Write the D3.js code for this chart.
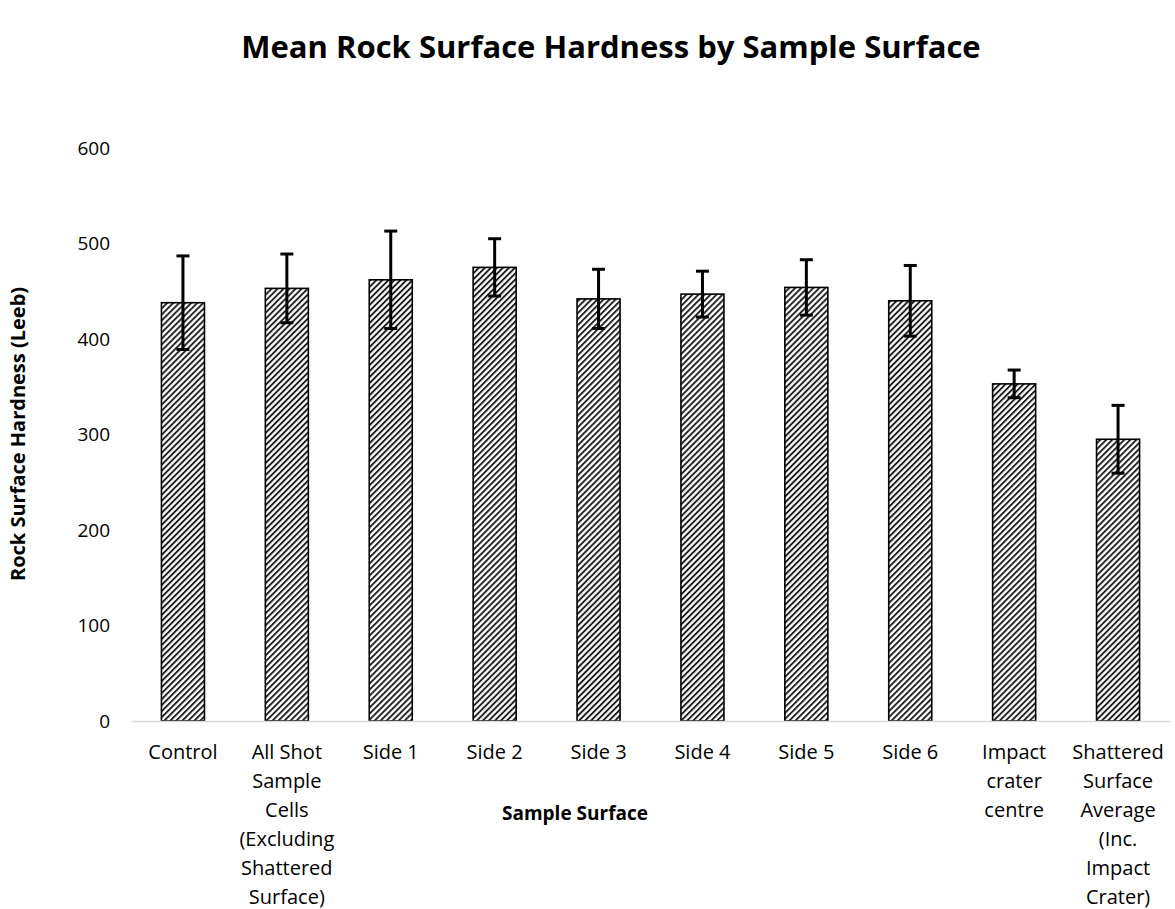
<!DOCTYPE html>
<html>
<head>
<meta charset="utf-8">
<script src="https://cdn.jsdelivr.net/npm/d3@7"></script>
<style>
  html, body { margin: 0; padding: 0; background: #fff; }
  svg { display: block; }
  text { font-family: "Open Sans", "Noto Sans", sans-serif; fill: #000; }
</style>
</head>
<body>
<svg id="chart" width="1175" height="909"></svg>
<script>
const categories = [
  "Control",
  "All Shot\nSample\nCells\n(Excluding\nShattered\nSurface)",
  "Side 1", "Side 2", "Side 3", "Side 4", "Side 5", "Side 6",
  "Impact\ncrater\ncentre",
  "Shattered\nSurface\nAverage\n(Inc.\nImpact\nCrater)"
];
const meanValues = [438, 453, 462, 475, 442, 447, 454, 440, 353, 295];
const errorValues = [49, 36, 51, 30, 31, 24, 29, 37, 14.5, 35.5];
const yTicks = [0, 100, 200, 300, 400, 500, 600];
const titleText = "Mean Rock Surface Hardness by Sample Surface";
const xTitle = "Sample Surface";
const yTitle = "Rock Surface Hardness (Leeb)";

const svg = d3.select("#chart");
const plotLeft = 131, plotRight = 1170, plotTop = 148, plotBottom = 721;

const x = d3.scaleBand().domain(categories).range([plotLeft, plotRight]).paddingInner(0.586).paddingOuter(0.293);
const y = d3.scaleLinear().domain([0, 600]).range([plotBottom, plotTop]);

const defs = svg.append("defs");
const pat = defs.append("pattern")
  .attr("id", "hatch")
  .attr("patternUnits", "userSpaceOnUse")
  .attr("width", 4.25).attr("height", 4.25)
  .attr("patternTransform", "rotate(45)");
pat.append("rect").attr("width", 4.25).attr("height", 4.25).attr("fill", "#fff");
pat.append("line").attr("x1", 1).attr("y1", 0).attr("x2", 1).attr("y2", 4.25)
  .attr("stroke", "#111").attr("stroke-width", 1.8);

// title
svg.append("text").attr("x", 611).attr("y", 58).attr("text-anchor", "middle")
  .attr("font-size", 31).attr("font-weight", "bold").text(titleText);

// y axis tick labels
const yAxis = d3.axisLeft(y).tickValues(yTicks).tickSize(0).tickPadding(0);
const yg = svg.append("g").attr("transform", `translate(${plotLeft - 21},0)`).call(yAxis);
yg.select(".domain").remove();
yg.selectAll("text").attr("font-size", 19).attr("font-family", "Open Sans").attr("fill", "#000");

// bars
const data = categories.map((c, i) => ({c, v: meanValues[i], e: errorValues[i]}));
svg.append("g").selectAll("rect").data(data).join("rect")
  .attr("x", d => x(d.c)).attr("width", x.bandwidth())
  .attr("y", d => y(d.v)).attr("height", d => y(0) - y(d.v))
  .attr("fill", "url(#hatch)").attr("stroke", "#000").attr("stroke-width", 1.6);

// x axis line
const xAxis = d3.axisBottom(x).tickSize(0).tickFormat("");
const xg = svg.append("g").attr("transform", `translate(0,${plotBottom})`).call(xAxis);
xg.select(".domain").attr("stroke", "#d9d9d9").attr("stroke-width", 1.5);

// category labels
const lab = svg.append("g").selectAll("text").data(categories).join("text")
  .attr("text-anchor", "middle").attr("font-size", 20)
  .attr("transform", d => `translate(${x(d) + x.bandwidth() / 2},${plotBottom + 38})`);
lab.selectAll("tspan").data(d => d.split("\n")).join("tspan")
  .attr("x", 0).attr("y", (d, i) => i * 29).text(d => d);

// error bars
const eg = svg.append("g").attr("stroke", "#000").attr("stroke-width", 3);
data.forEach(d => {
  const cx = x(d.c) + x.bandwidth() / 2;
  eg.append("line").attr("x1", cx).attr("x2", cx).attr("y1", y(d.v + d.e)).attr("y2", y(d.v - d.e));
  eg.append("line").attr("x1", cx - 6.5).attr("x2", cx + 6.5).attr("y1", y(d.v + d.e)).attr("y2", y(d.v + d.e));
  eg.append("line").attr("x1", cx - 6.5).attr("x2", cx + 6.5).attr("y1", y(d.v - d.e)).attr("y2", y(d.v - d.e));
});

// axis titles
svg.append("text").attr("x", 575).attr("y", 820).attr("text-anchor", "middle")
  .attr("font-size", 19).attr("font-weight", "bold").text(xTitle);
svg.append("text").attr("transform", "translate(25,434) rotate(-90)").attr("text-anchor", "middle")
  .attr("font-size", 20).attr("font-weight", "bold").text(yTitle);
</script>
</body>
</html>
